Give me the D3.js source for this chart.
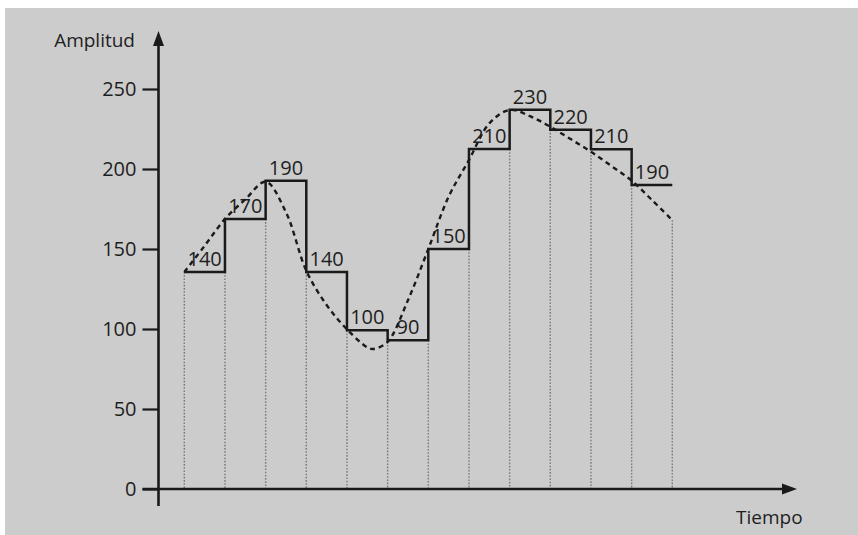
<!DOCTYPE html>
<html><head><meta charset="utf-8">
<script src="https://cdn.jsdelivr.net/npm/d3@7"></script>
<style>
html,body{margin:0;padding:0;background:#fff;}
svg{display:block;}
text{font-family:"Open Sans",sans-serif;fill:#1e1e1e;}
</style></head>
<body>
<svg id="c" width="858" height="535"></svg>
<script>
// Quantized labels per step
const stepLabels = ["140","170","190","140","100","90","150","210","230","220","210","190"];
// Drawn step levels (sample values)
const stepLevels = [135.6,168.8,192.7,135.6,99.2,93,150,212.5,237,224.6,212.3,190];
// Analog signal (dashed), sampled at half-step positions t
const curveT = [0,0.5,1,1.5,2,2.5,3,3.5,4,4.5,4.65,5,5.5,6,6.5,7,7.5,8,8.5,9,9.5,10,10.5,11,11.5,12];
const curveV = [135.6,152,168.8,181,192,173,136.4,115,99.8,88.5,87.5,92,118,150,182.7,205.6,228.5,236.9,233,226.4,218.7,210.8,201.9,192.7,180.6,168];
const yTicks = [0,50,100,150,200,250];
const yTitle = "Amplitud";
const xTitle = "Tiempo";

const svg = d3.select("#c");
svg.append("rect").attr("x",5).attr("y",8).attr("width",853).attr("height",527).attr("fill","#cccccc");

const x = d3.scaleLinear().domain([0,12]).range([184.3,672.3]);
const y = d3.scaleLinear().domain([0,250]).range([489,89]);
const x0 = 158.5;

// dotted sample lines
const curveAt = t => curveV[curveT.indexOf(t)];
const samples = d3.range(0,13);
svg.append("g").selectAll("line").data(samples).join("line")
  .attr("x1",d=>x(d)).attr("x2",d=>x(d))
  .attr("y1",d=>{
     const c=[curveAt(d)];
     if(d>0) c.push(stepLevels[d-1]);
     if(d<12) c.push(stepLevels[d]);
     return y(d3.min(c));
  })
  .attr("y2",y(0))
  .attr("stroke","#7a7a7a").attr("stroke-width",1.4).attr("stroke-dasharray","1.6,1.6");

// dashed analog curve
const line = d3.line().x(d=>x(d[0])).y(d=>y(d[1])).curve(d3.curveCatmullRom.alpha(0.5));
svg.append("path").datum(curveT.map((t,i)=>[t,curveV[i]]))
  .attr("d",line).attr("fill","none").attr("stroke","#1a1a1a")
  .attr("stroke-width",2.4).attr("stroke-dasharray","5,4");

// step line
const stepData = stepLevels.map((v,i)=>[i,v]).concat([[12,stepLevels[11]]]);
const sline = d3.line().x(d=>x(d[0])).y(d=>y(d[1])).curve(d3.curveStepAfter);
svg.append("path").datum(stepData).attr("d",sline)
  .attr("fill","none").attr("stroke","#1a1a1a").attr("stroke-width",2.5);

// step labels
svg.append("g").selectAll("text").data(stepLabels).join("text")
  .attr("x",(d,i)=>x(i+0.5)).attr("y",(d,i)=>y(stepLevels[i])-6)
  .attr("text-anchor","middle").attr("font-size",20).attr("font-weight",500).text(d=>d);

// y axis
const yAxis = d3.axisLeft(y).tickValues(yTicks).tickSize(16).tickPadding(6);
const gy = svg.append("g").attr("transform",`translate(${x0},0)`).call(yAxis);
gy.select(".domain").remove();
gy.selectAll(".tick line").attr("stroke","#1a1a1a").attr("stroke-width",2.2);
gy.selectAll(".tick text").attr("font-size",20).attr("font-weight",500).attr("font-family","Open Sans").attr("fill","#1e1e1e");

// axis lines with arrows
svg.append("line").attr("x1",x0).attr("x2",x0).attr("y1",506).attr("y2",44)
  .attr("stroke","#1a1a1a").attr("stroke-width",2.6);
svg.append("path").attr("d",`M${x0},31 L${x0-5.5},46 L${x0+5.5},46 Z`).attr("fill","#1a1a1a");
svg.append("line").attr("x1",142.5).attr("x2",784).attr("y1",y(0)).attr("y2",y(0))
  .attr("stroke","#1a1a1a").attr("stroke-width",2.6);
svg.append("path").attr("d",`M797,${y(0)} L782,${y(0)-5.5} L782,${y(0)+5.5} Z`).attr("fill","#1a1a1a");

svg.append("text").attr("x",135).attr("y",47).attr("text-anchor","end").attr("font-size",19).attr("font-weight",500).text(yTitle);
svg.append("text").attr("x",736).attr("y",524).attr("font-size",19).attr("font-weight",500).text(xTitle);
</script>
</body></html>
